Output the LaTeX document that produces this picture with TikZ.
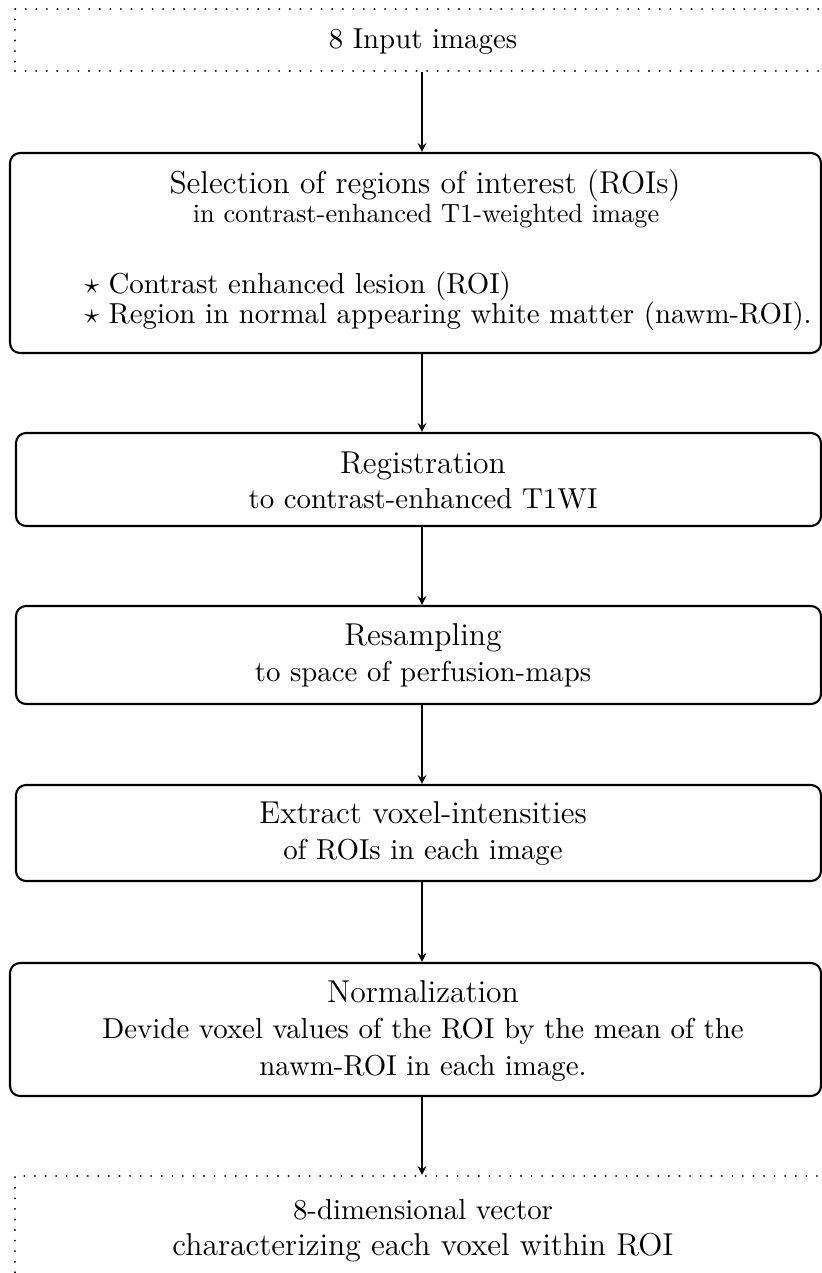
\documentclass[tikz,border=0pt,11pt]{standalone}
\newlength{\du}
\setlength{\du}{0.3795pt}
\tikzset{
  stepbox/.style={draw, thick, rounded corners=10\du, inner sep=0pt},
  iobox/.style={draw, thick, dash pattern=on 0.01pt off 4pt, line cap=round, inner sep=0pt},
  flow/.style={->, >=stealth, line width=0.5pt},
  txt/.style={anchor=base, inner sep=0pt},
  item/.style={anchor=base west, inner sep=0pt}
}
\begin{document}
\begin{tikzpicture}[yscale=-1]
\useasboundingbox (0\du,0\du) rectangle (822\du,1273\du);
\clip (0\du,0\du) rectangle (822\du,1273\du);
\coordinate (axis) at (422\du,0\du);
% input
\node[iobox, minimum width=825\du, minimum height=62\du] (inp) at (427.5\du,40\du) {};
\node[txt] (inptxt) at (423\du,48\du) {8 Input images};
% selection of ROIs
\node[stepbox, minimum width=811\du, minimum height=200\du] (sel) at (415.5\du,253\du) {};
\node[txt] (seltxt) at (425\du,193\du) {\large Selection of regions of interest (ROIs)};
\node[txt] (selsub) at (426\du,222\du) {\small in contrast-enhanced T1-weighted image};
\node[item] (selone) at (84\du,293\du) {$\star$ Contrast enhanced lesion (ROI)};
\node[item] (seltwo) at (84\du,323\du) {$\star$ Region in normal appearing white matter (nawm-ROI).};
% registration
\node[stepbox, minimum width=805\du, minimum height=93\du] (reg) at (418.5\du,479.5\du) {};
\node[txt] (regtxt) at (423\du,473\du) {\large Registration};
\node[txt] (regsub) at (423\du,508\du) {to contrast-enhanced T1WI};
% resampling
\node[stepbox, minimum width=805\du, minimum height=98\du] (res) at (418.5\du,655\du) {};
\node[txt] (restxt) at (423\du,645\du) {\large Resampling};
\node[txt] (ressub) at (423\du,681\du) {to space of perfusion-maps};
% extraction
\node[stepbox, minimum width=805\du, minimum height=96\du] (ext) at (418.5\du,833\du) {};
\node[txt] (exttxt) at (423\du,823\du) {\large Extract voxel-intensities};
\node[txt] (extsub) at (423\du,859\du) {of ROIs in each image};
% normalization
\node[stepbox, minimum width=811\du, minimum height=133\du] (nor) at (415.5\du,1029.5\du) {};
\node[txt] (nortxt) at (423\du,1002\du) {\large Normalization};
\node[txt] (norone) at (423\du,1038\du) {Devide voxel values of the ROI by the mean of the};
\node[txt] (nortwo) at (423\du,1075\du) {nawm-ROI in each image.};
% output
\node[iobox, minimum width=825\du, minimum height=124\du] (out) at (427.5\du,1238\du) {};
\node[txt] (outtxt) at (423\du,1219\du) {8-dimensional vector};
\node[txt] (outsub) at (423\du,1255\du) {\large characterizing each voxel within ROI};
% arrows
\draw[flow] (inp.south -| axis) -- (sel.north -| axis);
\draw[flow] (sel.south -| axis) -- (reg.north -| axis);
\draw[flow] (reg.south -| axis) -- (res.north -| axis);
\draw[flow] (res.south -| axis) -- (ext.north -| axis);
\draw[flow] (ext.south -| axis) -- (nor.north -| axis);
\draw[flow] (nor.south -| axis) -- (out.north -| axis);
\end{tikzpicture}
\end{document}
